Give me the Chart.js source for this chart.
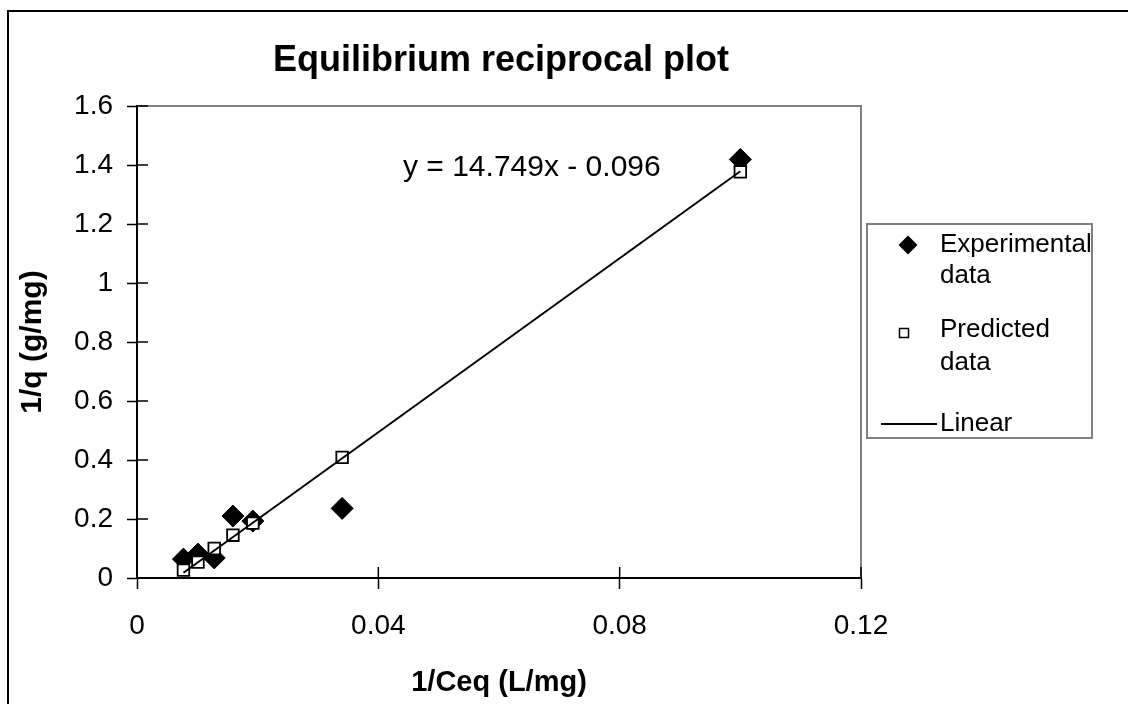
<!DOCTYPE html>
<html>
<head>
<meta charset="utf-8">
<script src="https://cdn.jsdelivr.net/npm/chart.js@4"></script>
<style>
  html, body { margin: 0; padding: 0; background: #fff; }
  #wrap { width: 1128px; height: 704px; }
</style>
</head>
<body>
<div id="wrap"><canvas id="c" width="1128" height="704"></canvas></div>
<script>
// ---- data ----
const xValues = [0.0077, 0.0101, 0.0128, 0.0159, 0.0192, 0.0340, 0.1000];
const experimentalY = [0.064, 0.081, 0.068, 0.210, 0.193, 0.236, 1.419];
const predictedY = [0.027, 0.054, 0.100, 0.145, 0.186, 0.409, 1.377];
const linearX = [0.0077, 0.1000];
const linearY = [0.018, 1.379];
const xTickLabels = ['0', '0.04', '0.08', '0.12'];
const yTickLabels = ['0', '0.2', '0.4', '0.6', '0.8', '1', '1.2', '1.4', '1.6'];
const titleText = 'Equilibrium reciprocal plot';
const equationText = 'y = 14.749x - 0.096';
const legendItems = [
  { lines: ['Experimental', 'data'], kind: 'diamond' },
  { lines: ['Predicted', 'data'], kind: 'square' },
  { lines: ['Linear'], kind: 'line' }
];

const FONT = "'Liberation Sans', Arial, sans-serif";
Chart.defaults.font.family = FONT;
Chart.defaults.color = '#000';

const toPts = (xs, ys) => xs.map((x, i) => ({ x: x, y: ys[i] }));

const decorPlugin = {
  id: 'decor',
  beforeDraw(chart) {
    const ctx = chart.ctx;
    ctx.save();
    ctx.fillStyle = '#fff';
    ctx.fillRect(0, 0, chart.width, chart.height);
    // outer chart frame (left and top visible)
    ctx.strokeStyle = '#000';
    ctx.lineWidth = 2;
    ctx.beginPath();
    ctx.moveTo(8, chart.height + 2);
    ctx.lineTo(8, 11);
    ctx.lineTo(chart.width + 2, 11);
    ctx.stroke();
    ctx.restore();
  },
  beforeDatasetsDraw(chart) {
    const ctx = chart.ctx;
    const a = chart.chartArea;
    ctx.save();
    // plot area border (top/right grey)
    ctx.strokeStyle = '#808080';
    ctx.lineWidth = 2;
    ctx.beginPath();
    ctx.moveTo(a.left, a.top);
    ctx.lineTo(a.right, a.top);
    ctx.lineTo(a.right, a.bottom);
    ctx.stroke();
    // inner halves of crossing tick marks
    ctx.strokeStyle = '#000';
    ctx.lineWidth = 1.5;
    const xs = chart.scales.x, ys = chart.scales.y;
    ctx.beginPath();
    xs.ticks.forEach((t, i) => {
      const px = xs.getPixelForTick(i);
      ctx.moveTo(px, a.bottom);
      ctx.lineTo(px, a.bottom - 11);
    });
    ys.ticks.forEach((t, i) => {
      const py = ys.getPixelForTick(i);
      ctx.moveTo(a.left, py);
      ctx.lineTo(a.left + 11, py);
    });
    ctx.stroke();
    ctx.restore();
  },
  afterDraw(chart) {
    const ctx = chart.ctx;
    const a = chart.chartArea;
    ctx.save();
    // title
    ctx.fillStyle = '#000';
    ctx.textAlign = 'center';
    ctx.textBaseline = 'middle';
    ctx.font = "bold 36px " + FONT;
    ctx.fillText(titleText, (a.left + a.right) / 2 + 2, 61);
    // trendline equation
    ctx.textAlign = 'left';
    ctx.font = "30px " + FONT;
    ctx.fillText(equationText, 403, 168);

    // legend box
    const L = { left: 867, top: 224, right: 1092, bottom: 438 };
    ctx.strokeStyle = '#808080';
    ctx.lineWidth = 2;
    ctx.fillStyle = '#fff';
    ctx.fillRect(L.left, L.top, L.right - L.left, L.bottom - L.top);
    ctx.strokeRect(L.left, L.top, L.right - L.left, L.bottom - L.top);

    ctx.fillStyle = '#000';
    ctx.font = "26px " + FONT;
    ctx.textBaseline = 'middle';
    const textX = 940;
    const rows = [
      { y: 245, sy: 245, sx: 908, gap: 31 },
      { y: 330, sy: 333, sx: 904, gap: 33 },
      { y: 424, sy: 424, sx: 0, gap: 0 }
    ];
    legendItems.forEach((it, i) => {
      const r = rows[i];
      if (it.kind === 'diamond') {
        ctx.fillStyle = '#000';
        ctx.beginPath();
        ctx.moveTo(r.sx, r.sy - 9.5);
        ctx.lineTo(r.sx + 9.5, r.sy);
        ctx.lineTo(r.sx, r.sy + 9.5);
        ctx.lineTo(r.sx - 9.5, r.sy);
        ctx.closePath();
        ctx.fill();
      } else if (it.kind === 'square') {
        ctx.fillStyle = '#fff';
        ctx.strokeStyle = '#000';
        ctx.lineWidth = 1.5;
        ctx.fillRect(r.sx - 4.5, r.sy - 4.5, 9, 9);
        ctx.strokeRect(r.sx - 4.5, r.sy - 4.5, 9, 9);
      } else {
        ctx.strokeStyle = '#000';
        ctx.lineWidth = 2;
        ctx.beginPath();
        ctx.moveTo(881, r.sy);
        ctx.lineTo(937, r.sy);
        ctx.stroke();
      }
      ctx.fillStyle = '#000';
      it.lines.forEach((ln, j) => ctx.fillText(ln, textX, r.y + j * r.gap));
    });
    ctx.restore();
  }
};

new Chart(document.getElementById('c'), {
  type: 'scatter',
  data: {
    datasets: [
      {
        label: 'Linear',
        type: 'line',
        data: toPts(linearX, linearY),
        borderColor: '#000',
        borderWidth: 2,
        pointRadius: 0,
        fill: false,
        tension: 0
      },
      {
        label: 'Predicted data',
        data: toPts(xValues, predictedY),
        pointStyle: 'rect',
        pointRadius: 8.2,
        pointHoverRadius: 8.2,
        backgroundColor: '#fff',
        borderColor: '#000',
        borderWidth: 1.8
      },
      {
        label: 'Experimental data',
        data: toPts(xValues, experimentalY),
        pointStyle: 'rectRot',
        pointRadius: 11,
        pointHoverRadius: 11,
        backgroundColor: '#000',
        borderColor: '#000',
        borderWidth: 1
      }
    ]
  },
  options: {
    responsive: false,
    devicePixelRatio: 1,
    animation: false,
    events: [],
    layout: { padding: { left: 0, top: 106, right: 267, bottom: 0 } },
    plugins: {
      legend: { display: false },
      title: { display: false },
      tooltip: { enabled: false }
    },
    scales: {
      x: {
        type: 'linear',
        min: 0, max: 0.12,
        afterFit(s) { s.height = 126; },
        ticks: {
          stepSize: 0.04,
          padding: 20,
          font: { size: 28 },
          color: '#000',
          maxRotation: 0,
          callback: (v, i) => xTickLabels[i]
        },
        grid: { display: true, drawOnChartArea: false, drawTicks: true, tickLength: 11, tickColor: '#000', tickWidth: 1.5 },
        border: { display: true, color: '#000', width: 2 },
        title: { display: true, text: '1/Ceq (L/mg)', font: { size: 29, weight: 'bold' }, color: '#000', padding: { top: 0, bottom: 4 } }
      },
      y: {
        type: 'linear',
        min: 0, max: 1.6,
        afterFit(s) { s.width = 137; },
        ticks: {
          stepSize: 0.2,
          padding: 14,
          font: { size: 28 },
          color: '#000',
          callback: (v, i) => yTickLabels[i]
        },
        grid: { display: true, drawOnChartArea: false, drawTicks: true, tickLength: 10, tickColor: '#000', tickWidth: 1.5 },
        border: { display: true, color: '#000', width: 2 },
        title: { display: true, text: '1/q (g/mg)', font: { size: 30, weight: 'bold' }, color: '#000', padding: { top: 15, bottom: 0 } }
      }
    }
  },
  plugins: [decorPlugin]
});
</script>
</body>
</html>
